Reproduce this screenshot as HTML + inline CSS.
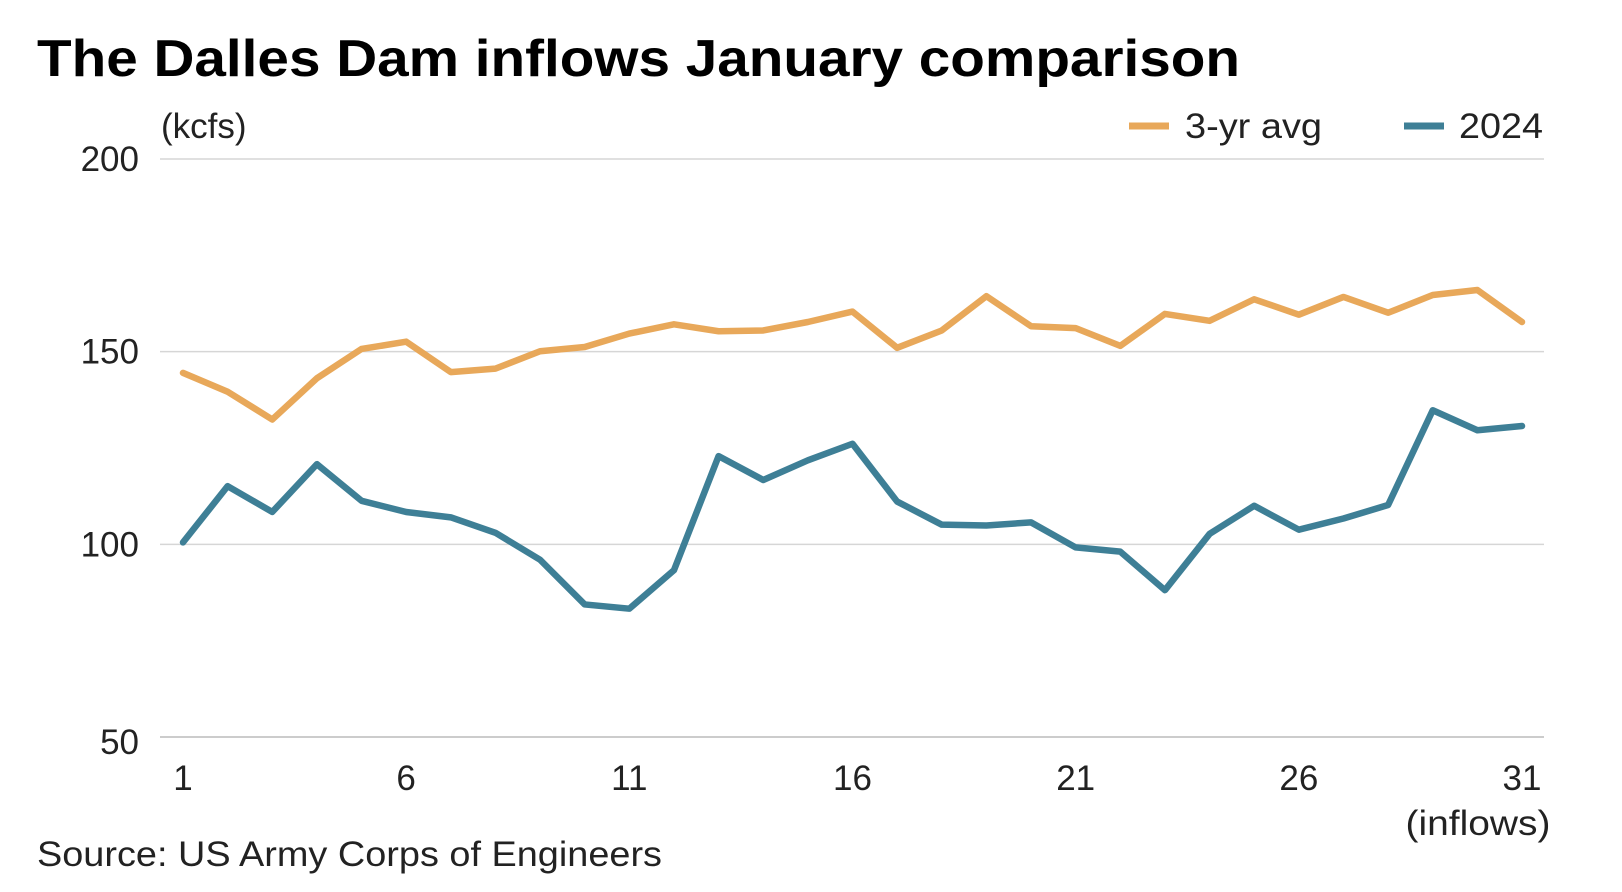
<!DOCTYPE html>
<html><head><meta charset="utf-8"><style>
html,body{margin:0;padding:0;background:#fff;width:1622px;height:892px;overflow:hidden}
svg text{font-family:"Liberation Sans",sans-serif}
</style></head><body>
<svg width="1622" height="892" viewBox="0 0 1622 892">
<text x="37" y="76" font-size="52" font-weight="bold" fill="#000" textLength="1203" lengthAdjust="spacingAndGlyphs">The Dalles Dam inflows January comparison</text>
<text x="161" y="138" font-size="35" fill="#222">(kcfs)</text>
<g>
<line x1="1129" y1="126" x2="1169" y2="126" stroke="#E8A85A" stroke-width="7"/>
<text x="1185" y="138" font-size="35" fill="#222" textLength="137" lengthAdjust="spacingAndGlyphs">3-yr avg</text>
<line x1="1404" y1="126" x2="1444" y2="126" stroke="#3E7F96" stroke-width="7"/>
<text x="1459" y="138" font-size="35" fill="#222" textLength="84" lengthAdjust="spacingAndGlyphs">2024</text>
</g>
<g id="grid"></g><g id="lines"></g>
<text x="1478" y="835" font-size="35" fill="#222" text-anchor="middle" textLength="145" lengthAdjust="spacingAndGlyphs">(inflows)</text>
<text x="37" y="866" font-size="35" fill="#222" textLength="625" lengthAdjust="spacingAndGlyphs">Source: US Army Corps of Engineers</text>
</svg>
<script>
const days=[1,2,3,4,5,6,7,8,9,10,11,12,13,14,15,16,17,18,19,20,21,22,23,24,25,26,27,28,29,30,31];
const avg3yr=[144.5,139.6,132.4,143.1,150.7,152.6,144.7,145.6,150.1,151.2,154.7,157.1,155.3,155.5,157.7,160.4,151,155.5,164.4,156.6,156.1,151.5,159.8,158,163.6,159.6,164.2,160.1,164.7,166,157.7];
const y2024=[100.5,115.1,108.4,120.8,111.3,108.4,107,103,96,84.4,83.3,93.3,122.9,116.7,121.8,126.1,111.1,105.1,104.9,105.7,99.2,98.1,88.1,102.7,110,103.8,106.7,110.2,134.8,129.6,130.7];
const yTicks=[50,100,150,200];
const xTicks=[1,6,11,16,21,26,31];
const NS="http://www.w3.org/2000/svg";
const xs=d=>183+(d-1)*(1522-183)/30;
const ys=v=>737-(v-50)*(737-159)/150;
const grid=document.getElementById('grid'),lines=document.getElementById('lines');
yTicks.forEach(t=>{
 const l=document.createElementNS(NS,'line');
 l.setAttribute('x1',160);l.setAttribute('x2',1544);l.setAttribute('y1',ys(t));l.setAttribute('y2',ys(t));
 l.setAttribute('stroke',t===50?'#bbb':'#d6d6d6');l.setAttribute('stroke-width',1.5);
 
 
 grid.appendChild(l);
 const tx=document.createElementNS(NS,'text');
 tx.setAttribute('x',139);tx.setAttribute('y',ys(t)+(t===50?17:12));tx.setAttribute('text-anchor','end');
 tx.setAttribute('font-size',35);tx.setAttribute('fill','#222');tx.textContent=t;
 
 
 grid.appendChild(tx);
});
xTicks.forEach(d=>{
 const tx=document.createElementNS(NS,'text');
 tx.setAttribute('x',xs(d));tx.setAttribute('y',790);tx.setAttribute('text-anchor','middle');
 tx.setAttribute('font-size',35);tx.setAttribute('fill','#222');tx.textContent=d;
 
 
 grid.appendChild(tx);
});
function series(vals,color,name){
 const p=document.createElementNS(NS,'polyline');
 p.setAttribute('points',vals.map((v,i)=>xs(days[i])+','+ys(v)).join(' '));
 p.setAttribute('fill','none');p.setAttribute('stroke',color);p.setAttribute('stroke-width',6.5);
 p.setAttribute('stroke-linejoin','round');p.setAttribute('stroke-linecap','round');
 
 
 lines.appendChild(p);
}
series(avg3yr,'#E8A85A','line-3yr-avg');
series(y2024,'#3E7F96','line-2024');
</script>
</body></html>
